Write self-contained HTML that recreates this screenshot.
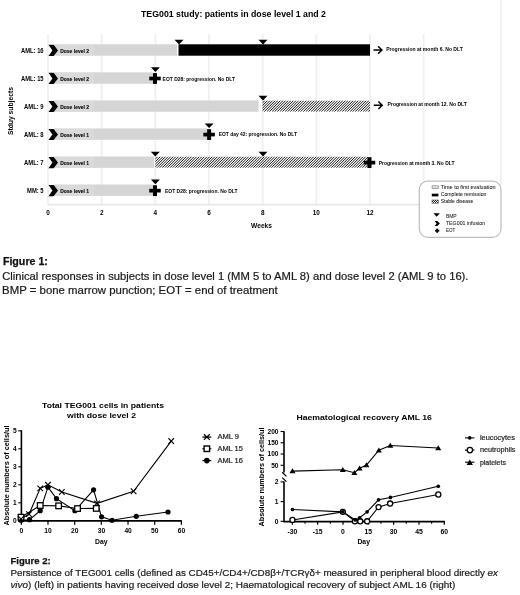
<!DOCTYPE html>
<html><head><meta charset="utf-8"><style>
html,body{margin:0;padding:0;background:#fff;}
svg{display:block;font-family:"Liberation Sans", sans-serif;filter:grayscale(1);}
</style></head><body>
<svg width="520" height="595" viewBox="0 0 520 595">
<line x1="48.00" y1="34" x2="48.00" y2="204" stroke="#efefef" stroke-width="1.7"/>
<line x1="101.67" y1="34" x2="101.67" y2="204" stroke="#efefef" stroke-width="1.7"/>
<line x1="155.33" y1="34" x2="155.33" y2="204" stroke="#efefef" stroke-width="1.7"/>
<line x1="209.00" y1="34" x2="209.00" y2="204" stroke="#efefef" stroke-width="1.7"/>
<line x1="262.66" y1="34" x2="262.66" y2="204" stroke="#efefef" stroke-width="1.7"/>
<line x1="316.33" y1="34" x2="316.33" y2="204" stroke="#efefef" stroke-width="1.7"/>
<line x1="370.00" y1="34" x2="370.00" y2="204" stroke="#efefef" stroke-width="1.7"/>
<line x1="423.66" y1="34" x2="423.66" y2="204" stroke="#efefef" stroke-width="1.7"/>
<line x1="500.9" y1="0" x2="500.9" y2="185" stroke="#efefef" stroke-width="1.8"/>
<line x1="47.5" y1="204.6" x2="419" y2="204.6" stroke="#e8e8e8" stroke-width="1.6"/>
<text x="141" y="17.4" font-size="8.6" font-weight="bold" text-anchor="start" fill="#000" textLength="185" lengthAdjust="spacingAndGlyphs">TEG001 study: patients in dose level 1 and 2</text>
<text transform="translate(12.8,111) rotate(-90)" font-size="7.4" font-weight="bold" text-anchor="middle" textLength="48" lengthAdjust="spacingAndGlyphs">Stduy subjects</text>
<defs><pattern id="hatch" patternUnits="userSpaceOnUse" width="1.65" height="1.65" patternTransform="rotate(45)"><rect width="1.65" height="1.65" fill="#fff"/><rect width="0.85" height="1.65" fill="#111"/></pattern></defs>
<text x="43.6" y="52.5" font-size="6.8" font-weight="bold" text-anchor="end" fill="#000" textLength="22.5" lengthAdjust="spacingAndGlyphs">AML: 16</text>
<text x="43.6" y="80.54" font-size="6.8" font-weight="bold" text-anchor="end" fill="#000" textLength="22.5" lengthAdjust="spacingAndGlyphs">AML: 15</text>
<text x="43.6" y="108.58" font-size="6.8" font-weight="bold" text-anchor="end" fill="#000" textLength="19.5" lengthAdjust="spacingAndGlyphs">AML: 9</text>
<text x="43.6" y="136.62" font-size="6.8" font-weight="bold" text-anchor="end" fill="#000" textLength="19.5" lengthAdjust="spacingAndGlyphs">AML: 8</text>
<text x="43.6" y="164.66" font-size="6.8" font-weight="bold" text-anchor="end" fill="#000" textLength="19.5" lengthAdjust="spacingAndGlyphs">AML: 7</text>
<text x="43.6" y="192.7" font-size="6.8" font-weight="bold" text-anchor="end" fill="#000" textLength="16.5" lengthAdjust="spacingAndGlyphs">MM: 5</text>
<rect x="53.6" y="44.30" width="123.4" height="11.4" fill="#d5d5d5"/>
<rect x="178.5" y="44.30" width="191.5" height="11.4" fill="#000"/>
<path d="M174.50,39.70 L183.50,39.70 L179.00,44.40 Z" fill="#000"/>
<path d="M258.50,39.70 L267.50,39.70 L263.00,44.40 Z" fill="#000"/>
<path d="M373.50,50.00 H381.70 M378.10,46.30 L381.90,50.00 L378.10,53.70" stroke="#000" stroke-width="1.5" fill="none"/>
<rect x="53.6" y="72.34" width="99.4" height="11.4" fill="#d5d5d5"/>
<path d="M150.90,67.34 L159.90,67.34 L155.40,72.04 Z" fill="#000"/>
<rect x="153.00" y="73.09" width="4" height="10.8" fill="#000"/><rect x="149.25" y="76.64" width="11.5" height="3.7" fill="#000"/>
<rect x="53.6" y="100.38" width="204.9" height="11.4" fill="#d5d5d5"/>
<clipPath id="hc1"><rect x="262.50" y="100.38" width="107.50" height="11.40"/></clipPath><path clip-path="url(#hc1)" d="M251.10,111.78 L262.50,100.38 M253.70,111.78 L265.10,100.38 M256.30,111.78 L267.70,100.38 M258.90,111.78 L270.30,100.38 M261.50,111.78 L272.90,100.38 M264.10,111.78 L275.50,100.38 M266.70,111.78 L278.10,100.38 M269.30,111.78 L280.70,100.38 M271.90,111.78 L283.30,100.38 M274.50,111.78 L285.90,100.38 M277.10,111.78 L288.50,100.38 M279.70,111.78 L291.10,100.38 M282.30,111.78 L293.70,100.38 M284.90,111.78 L296.30,100.38 M287.50,111.78 L298.90,100.38 M290.10,111.78 L301.50,100.38 M292.70,111.78 L304.10,100.38 M295.30,111.78 L306.70,100.38 M297.90,111.78 L309.30,100.38 M300.50,111.78 L311.90,100.38 M303.10,111.78 L314.50,100.38 M305.70,111.78 L317.10,100.38 M308.30,111.78 L319.70,100.38 M310.90,111.78 L322.30,100.38 M313.50,111.78 L324.90,100.38 M316.10,111.78 L327.50,100.38 M318.70,111.78 L330.10,100.38 M321.30,111.78 L332.70,100.38 M323.90,111.78 L335.30,100.38 M326.50,111.78 L337.90,100.38 M329.10,111.78 L340.50,100.38 M331.70,111.78 L343.10,100.38 M334.30,111.78 L345.70,100.38 M336.90,111.78 L348.30,100.38 M339.50,111.78 L350.90,100.38 M342.10,111.78 L353.50,100.38 M344.70,111.78 L356.10,100.38 M347.30,111.78 L358.70,100.38 M349.90,111.78 L361.30,100.38 M352.50,111.78 L363.90,100.38 M355.10,111.78 L366.50,100.38 M357.70,111.78 L369.10,100.38 M360.30,111.78 L371.70,100.38 M362.90,111.78 L374.30,100.38 M365.50,111.78 L376.90,100.38 M368.10,111.78 L379.50,100.38 M370.70,111.78 L382.10,100.38" stroke="#151515" stroke-width="1.0" fill="none"/>
<path d="M258.50,95.78 L267.50,95.78 L263.00,100.48 Z" fill="#000"/>
<path d="M373.80,105.25 H382.00 M378.40,101.55 L382.20,105.25 L378.40,108.95" stroke="#000" stroke-width="1.5" fill="none"/>
<rect x="53.6" y="128.42" width="153.4" height="11.4" fill="#d5d5d5"/>
<path d="M204.60,123.42 L213.60,123.42 L209.10,128.12 Z" fill="#000"/>
<rect x="207.10" y="129.17" width="4" height="10.8" fill="#000"/><rect x="203.35" y="132.72" width="11.5" height="3.7" fill="#000"/>
<rect x="53.6" y="156.46" width="100.4" height="11.4" fill="#d5d5d5"/>
<clipPath id="hc2"><rect x="155.30" y="156.46" width="212.70" height="11.40"/></clipPath><path clip-path="url(#hc2)" d="M143.90,167.86 L155.30,156.46 M146.50,167.86 L157.90,156.46 M149.10,167.86 L160.50,156.46 M151.70,167.86 L163.10,156.46 M154.30,167.86 L165.70,156.46 M156.90,167.86 L168.30,156.46 M159.50,167.86 L170.90,156.46 M162.10,167.86 L173.50,156.46 M164.70,167.86 L176.10,156.46 M167.30,167.86 L178.70,156.46 M169.90,167.86 L181.30,156.46 M172.50,167.86 L183.90,156.46 M175.10,167.86 L186.50,156.46 M177.70,167.86 L189.10,156.46 M180.30,167.86 L191.70,156.46 M182.90,167.86 L194.30,156.46 M185.50,167.86 L196.90,156.46 M188.10,167.86 L199.50,156.46 M190.70,167.86 L202.10,156.46 M193.30,167.86 L204.70,156.46 M195.90,167.86 L207.30,156.46 M198.50,167.86 L209.90,156.46 M201.10,167.86 L212.50,156.46 M203.70,167.86 L215.10,156.46 M206.30,167.86 L217.70,156.46 M208.90,167.86 L220.30,156.46 M211.50,167.86 L222.90,156.46 M214.10,167.86 L225.50,156.46 M216.70,167.86 L228.10,156.46 M219.30,167.86 L230.70,156.46 M221.90,167.86 L233.30,156.46 M224.50,167.86 L235.90,156.46 M227.10,167.86 L238.50,156.46 M229.70,167.86 L241.10,156.46 M232.30,167.86 L243.70,156.46 M234.90,167.86 L246.30,156.46 M237.50,167.86 L248.90,156.46 M240.10,167.86 L251.50,156.46 M242.70,167.86 L254.10,156.46 M245.30,167.86 L256.70,156.46 M247.90,167.86 L259.30,156.46 M250.50,167.86 L261.90,156.46 M253.10,167.86 L264.50,156.46 M255.70,167.86 L267.10,156.46 M258.30,167.86 L269.70,156.46 M260.90,167.86 L272.30,156.46 M263.50,167.86 L274.90,156.46 M266.10,167.86 L277.50,156.46 M268.70,167.86 L280.10,156.46 M271.30,167.86 L282.70,156.46 M273.90,167.86 L285.30,156.46 M276.50,167.86 L287.90,156.46 M279.10,167.86 L290.50,156.46 M281.70,167.86 L293.10,156.46 M284.30,167.86 L295.70,156.46 M286.90,167.86 L298.30,156.46 M289.50,167.86 L300.90,156.46 M292.10,167.86 L303.50,156.46 M294.70,167.86 L306.10,156.46 M297.30,167.86 L308.70,156.46 M299.90,167.86 L311.30,156.46 M302.50,167.86 L313.90,156.46 M305.10,167.86 L316.50,156.46 M307.70,167.86 L319.10,156.46 M310.30,167.86 L321.70,156.46 M312.90,167.86 L324.30,156.46 M315.50,167.86 L326.90,156.46 M318.10,167.86 L329.50,156.46 M320.70,167.86 L332.10,156.46 M323.30,167.86 L334.70,156.46 M325.90,167.86 L337.30,156.46 M328.50,167.86 L339.90,156.46 M331.10,167.86 L342.50,156.46 M333.70,167.86 L345.10,156.46 M336.30,167.86 L347.70,156.46 M338.90,167.86 L350.30,156.46 M341.50,167.86 L352.90,156.46 M344.10,167.86 L355.50,156.46 M346.70,167.86 L358.10,156.46 M349.30,167.86 L360.70,156.46 M351.90,167.86 L363.30,156.46 M354.50,167.86 L365.90,156.46 M357.10,167.86 L368.50,156.46 M359.70,167.86 L371.10,156.46 M362.30,167.86 L373.70,156.46 M364.90,167.86 L376.30,156.46 M367.50,167.86 L378.90,156.46" stroke="#151515" stroke-width="1.0" fill="none"/>
<path d="M150.80,151.86 L159.80,151.86 L155.30,156.56 Z" fill="#000"/>
<path d="M258.50,151.86 L267.50,151.86 L263.00,156.56 Z" fill="#000"/>
<rect x="367.50" y="157.21" width="4" height="10.8" fill="#000"/><rect x="363.75" y="160.76" width="11.5" height="3.7" fill="#000"/>
<rect x="53.6" y="184.50" width="99.4" height="11.4" fill="#d5d5d5"/>
<path d="M150.90,179.50 L159.90,179.50 L155.40,184.20 Z" fill="#000"/>
<rect x="153.00" y="185.25" width="4" height="10.8" fill="#000"/><rect x="149.25" y="188.80" width="11.5" height="3.7" fill="#000"/>
<rect x="57.5" y="44.90" width="36.5" height="10.20" fill="#dadada"/>
<path d="M48.5,44.80 L53.6,44.80 L58,50.40 L53.6,56.00 L48.5,56.00 L52.4,50.40 Z" fill="#000"/>
<text x="60.2" y="52.6" font-size="5.9" font-weight="bold" text-anchor="start" fill="#000" textLength="28.8" lengthAdjust="spacingAndGlyphs" stroke="#000" stroke-width="0.1">Dose level 2</text>
<rect x="57.5" y="72.94" width="36.5" height="10.20" fill="#dadada"/>
<path d="M48.5,72.84 L53.6,72.84 L58,78.44 L53.6,84.04 L48.5,84.04 L52.4,78.44 Z" fill="#000"/>
<text x="60.2" y="80.64" font-size="5.9" font-weight="bold" text-anchor="start" fill="#000" textLength="28.8" lengthAdjust="spacingAndGlyphs" stroke="#000" stroke-width="0.1">Dose level 2</text>
<rect x="57.5" y="100.98" width="36.5" height="10.20" fill="#dadada"/>
<path d="M48.5,100.88 L53.6,100.88 L58,106.48 L53.6,112.08 L48.5,112.08 L52.4,106.48 Z" fill="#000"/>
<text x="60.2" y="108.67999999999999" font-size="5.9" font-weight="bold" text-anchor="start" fill="#000" textLength="28.8" lengthAdjust="spacingAndGlyphs" stroke="#000" stroke-width="0.1">Dose level 2</text>
<rect x="57.5" y="129.02" width="36.5" height="10.20" fill="#dadada"/>
<path d="M48.5,128.92 L53.6,128.92 L58,134.52 L53.6,140.12 L48.5,140.12 L52.4,134.52 Z" fill="#000"/>
<text x="60.2" y="136.72" font-size="5.9" font-weight="bold" text-anchor="start" fill="#000" textLength="28.8" lengthAdjust="spacingAndGlyphs" stroke="#000" stroke-width="0.1">Dose level 1</text>
<rect x="57.5" y="157.06" width="36.5" height="10.20" fill="#dadada"/>
<path d="M48.5,156.96 L53.6,156.96 L58,162.56 L53.6,168.16 L48.5,168.16 L52.4,162.56 Z" fill="#000"/>
<text x="60.2" y="164.76" font-size="5.9" font-weight="bold" text-anchor="start" fill="#000" textLength="28.8" lengthAdjust="spacingAndGlyphs" stroke="#000" stroke-width="0.1">Dose level 1</text>
<rect x="57.5" y="185.10" width="36.5" height="10.20" fill="#dadada"/>
<path d="M48.5,185.00 L53.6,185.00 L58,190.60 L53.6,196.20 L48.5,196.20 L52.4,190.60 Z" fill="#000"/>
<text x="60.2" y="192.79999999999998" font-size="5.9" font-weight="bold" text-anchor="start" fill="#000" textLength="28.8" lengthAdjust="spacingAndGlyphs" stroke="#000" stroke-width="0.1">Dose level 1</text>
<text x="386.2" y="51.2" font-size="5.8" font-weight="bold" text-anchor="start" fill="#000" textLength="76.6" lengthAdjust="spacingAndGlyphs">Progression at month 6. No DLT</text>
<text x="162.6" y="81.0" font-size="5.8" font-weight="bold" text-anchor="start" fill="#000" textLength="72.4" lengthAdjust="spacingAndGlyphs">EOT D28: progression. No DLT</text>
<text x="387.6" y="105.8" font-size="5.8" font-weight="bold" text-anchor="start" fill="#000" textLength="79.3" lengthAdjust="spacingAndGlyphs">Progression at month 12. No DLT</text>
<text x="218.75" y="135.5" font-size="5.8" font-weight="bold" text-anchor="start" fill="#000" textLength="78.2" lengthAdjust="spacingAndGlyphs">EOT day 42: progression. No DLT</text>
<text x="378.75" y="165.3" font-size="5.8" font-weight="bold" text-anchor="start" fill="#000" textLength="75.7" lengthAdjust="spacingAndGlyphs">Progression at month 3. No DLT</text>
<text x="165" y="193.0" font-size="5.8" font-weight="bold" text-anchor="start" fill="#000" textLength="72.5" lengthAdjust="spacingAndGlyphs">EOT D28: progression. No DLT</text>
<text x="48.00" y="215" font-size="6.4" font-weight="bold" text-anchor="middle" fill="#000">0</text>
<text x="101.67" y="215" font-size="6.4" font-weight="bold" text-anchor="middle" fill="#000">2</text>
<text x="155.33" y="215" font-size="6.4" font-weight="bold" text-anchor="middle" fill="#000">4</text>
<text x="209.00" y="215" font-size="6.4" font-weight="bold" text-anchor="middle" fill="#000">6</text>
<text x="262.66" y="215" font-size="6.4" font-weight="bold" text-anchor="middle" fill="#000">8</text>
<text x="316.33" y="215" font-size="6.4" font-weight="bold" text-anchor="middle" fill="#000">10</text>
<text x="370.00" y="215" font-size="6.4" font-weight="bold" text-anchor="middle" fill="#000">12</text>
<text x="261.5" y="227.8" font-size="6.6" font-weight="bold" text-anchor="middle" fill="#000">Weeks</text>
<rect x="419.3" y="181.2" width="81.7" height="56.2" rx="8.5" ry="8.5" fill="#fff" stroke="#bdbdbd" stroke-width="1.2"/>
<rect x="432.1" y="185.8" width="6.2" height="2.8" fill="#ddd" stroke="#888" stroke-width="0.7"/>
<rect x="431.8" y="193.7" width="6.6" height="2.7" fill="#000"/>
<rect x="432" y="200" width="6.4" height="3.2" fill="#fff" stroke="#555" stroke-width="0.6"/>
<clipPath id="hc3"><rect x="432.00" y="200.00" width="6.40" height="3.20"/></clipPath><path clip-path="url(#hc3)" d="M428.80,203.20 L432.00,200.00 M430.80,203.20 L434.00,200.00 M432.80,203.20 L436.00,200.00 M434.80,203.20 L438.00,200.00 M436.80,203.20 L440.00,200.00 M438.80,203.20 L442.00,200.00" stroke="#111" stroke-width="0.9" fill="none"/>
<text x="440.7" y="189.1" font-size="6.2" font-weight="normal" text-anchor="start" fill="#1a1a1a" textLength="54.8" lengthAdjust="spacingAndGlyphs" stroke="#1a1a1a" stroke-width="0.06">Time to first evaluation</text>
<text x="440.7" y="196.4" font-size="6.2" font-weight="normal" text-anchor="start" fill="#1a1a1a" textLength="45.7" lengthAdjust="spacingAndGlyphs" stroke="#1a1a1a" stroke-width="0.06">Complete remission</text>
<text x="440.7" y="203.3" font-size="6.2" font-weight="normal" text-anchor="start" fill="#1a1a1a" textLength="32.7" lengthAdjust="spacingAndGlyphs" stroke="#1a1a1a" stroke-width="0.06">Stable disease</text>
<path d="M433.5,213.2 L439.8,213.2 L436.65,216.8 Z" fill="#000"/>
<path d="M434.6,221 L437.3,221 L439.9,223.45 L437.3,225.9 L434.6,225.9 L436.7,223.45 Z" fill="#000"/>
<rect x="436.3" y="228.6" width="1.8" height="4.2" fill="#000"/><rect x="435.1" y="229.8" width="4.2" height="1.8" fill="#000"/>
<text x="445.9" y="218.2" font-size="6.2" font-weight="normal" text-anchor="start" fill="#1a1a1a" textLength="10.7" lengthAdjust="spacingAndGlyphs" stroke="#1a1a1a" stroke-width="0.06">BMP</text>
<text x="445.9" y="225.0" font-size="6.2" font-weight="normal" text-anchor="start" fill="#1a1a1a" textLength="39.2" lengthAdjust="spacingAndGlyphs" stroke="#1a1a1a" stroke-width="0.06">TEG001 infusion</text>
<text x="445.9" y="232.2" font-size="6.2" font-weight="normal" text-anchor="start" fill="#1a1a1a" textLength="9.3" lengthAdjust="spacingAndGlyphs" stroke="#1a1a1a" stroke-width="0.06">EOT</text>
<text x="2.9" y="265.4" font-size="10" font-weight="bold" text-anchor="start" fill="#111" textLength="45" lengthAdjust="spacingAndGlyphs" stroke="#111" stroke-width="0.25">Figure 1:</text>
<text x="2.2" y="280.2" font-size="10.3" font-weight="normal" text-anchor="start" fill="#1a1a1a" textLength="466.3" lengthAdjust="spacingAndGlyphs" stroke="#1a1a1a" stroke-width="0.2">Clinical responses in subjects in dose level 1 (MM 5 to AML 8) and dose level 2 (AML 9 to 16).</text>
<text x="2.1" y="293.6" font-size="10.3" font-weight="normal" text-anchor="start" fill="#1a1a1a" textLength="275.7" lengthAdjust="spacingAndGlyphs" stroke="#1a1a1a" stroke-width="0.2">BMP = bone marrow punction; EOT = end of treatment</text>
<text x="10.4" y="564.4" font-size="9.4" font-weight="bold" text-anchor="start" fill="#111" textLength="40.4" lengthAdjust="spacingAndGlyphs" stroke="#111" stroke-width="0.25">Figure 2:</text>
<text x="10.4" y="576.3" font-size="9.7" font-weight="normal" text-anchor="start" fill="#1a1a1a" textLength="487.6" lengthAdjust="spacingAndGlyphs" stroke="#1a1a1a" stroke-width="0.2">Persistence of TEG001 cells (defined as CD45+/CD4+/CD8&#946;+/TCR&#947;&#948;+ measured in peripheral blood directly <tspan font-style="italic">ex</tspan></text>
<text x="10.4" y="588.1" font-size="9.7" font-weight="normal" text-anchor="start" fill="#1a1a1a" textLength="445" lengthAdjust="spacingAndGlyphs" stroke="#1a1a1a" stroke-width="0.2"><tspan font-style="italic">vivo</tspan>) (left) in patients having received dose level 2; Haematological recovery of subject AML 16 (right)</text>
<text x="103" y="408" font-size="7.8" font-weight="bold" text-anchor="middle" fill="#000" textLength="122" lengthAdjust="spacingAndGlyphs">Total TEG001 cells in patients</text>
<text x="101.5" y="418.2" font-size="7.8" font-weight="bold" text-anchor="middle" fill="#000" textLength="69" lengthAdjust="spacingAndGlyphs">with dose level 2</text>
<path d="M21.4,430.2 V521.4 M20.6,520.9 H181.8" stroke="#000" stroke-width="1.6" fill="none"/>
<line x1="18.3" y1="520.80" x2="21" y2="520.80" stroke="#000" stroke-width="1.1"/>
<text x="16.6" y="523.1999999999999" font-size="6.6" font-weight="bold" text-anchor="end" fill="#000">0</text>
<line x1="18.3" y1="502.80" x2="21" y2="502.80" stroke="#000" stroke-width="1.1"/>
<text x="16.6" y="505.19999999999993" font-size="6.6" font-weight="bold" text-anchor="end" fill="#000">1</text>
<line x1="18.3" y1="484.80" x2="21" y2="484.80" stroke="#000" stroke-width="1.1"/>
<text x="16.6" y="487.19999999999993" font-size="6.6" font-weight="bold" text-anchor="end" fill="#000">2</text>
<line x1="18.3" y1="466.80" x2="21" y2="466.80" stroke="#000" stroke-width="1.1"/>
<text x="16.6" y="469.19999999999993" font-size="6.6" font-weight="bold" text-anchor="end" fill="#000">3</text>
<line x1="18.3" y1="448.80" x2="21" y2="448.80" stroke="#000" stroke-width="1.1"/>
<text x="16.6" y="451.19999999999993" font-size="6.6" font-weight="bold" text-anchor="end" fill="#000">4</text>
<line x1="18.3" y1="430.80" x2="21" y2="430.80" stroke="#000" stroke-width="1.1"/>
<text x="16.6" y="433.19999999999993" font-size="6.6" font-weight="bold" text-anchor="end" fill="#000">5</text>
<line x1="21.30" y1="520.8" x2="21.30" y2="524.7" stroke="#000" stroke-width="1.2"/>
<text x="21.40" y="532.7" font-size="6.7" font-weight="bold" text-anchor="middle" fill="#000">0</text>
<line x1="47.98" y1="520.8" x2="47.98" y2="524.7" stroke="#000" stroke-width="1.2"/>
<text x="48.08" y="532.7" font-size="6.7" font-weight="bold" text-anchor="middle" fill="#000">10</text>
<line x1="74.66" y1="520.8" x2="74.66" y2="524.7" stroke="#000" stroke-width="1.2"/>
<text x="74.76" y="532.7" font-size="6.7" font-weight="bold" text-anchor="middle" fill="#000">20</text>
<line x1="101.34" y1="520.8" x2="101.34" y2="524.7" stroke="#000" stroke-width="1.2"/>
<text x="101.44" y="532.7" font-size="6.7" font-weight="bold" text-anchor="middle" fill="#000">30</text>
<line x1="128.02" y1="520.8" x2="128.02" y2="524.7" stroke="#000" stroke-width="1.2"/>
<text x="128.12" y="532.7" font-size="6.7" font-weight="bold" text-anchor="middle" fill="#000">40</text>
<line x1="154.70" y1="520.8" x2="154.70" y2="524.7" stroke="#000" stroke-width="1.2"/>
<text x="154.80" y="532.7" font-size="6.7" font-weight="bold" text-anchor="middle" fill="#000">50</text>
<line x1="181.38" y1="520.8" x2="181.38" y2="524.7" stroke="#000" stroke-width="1.2"/>
<text x="181.48" y="532.7" font-size="6.7" font-weight="bold" text-anchor="middle" fill="#000">60</text>
<text x="101.3" y="543.7" font-size="6.8" font-weight="bold" text-anchor="middle" fill="#000">Day</text>
<text transform="translate(8.9,475.5) rotate(-90)" font-size="6.8" font-weight="bold" text-anchor="middle" textLength="100" lengthAdjust="spacingAndGlyphs">Absolute numbers of cells/ul</text>
<polyline points="21.00,519.00 29.00,514.14 40.21,488.40 47.95,484.80 61.82,492.00 97.04,503.34 133.59,491.28 171.21,441.06" fill="none" stroke="#000" stroke-width="1.1"/>
<polyline points="21.00,517.20 40.21,505.50 58.62,505.86 77.56,508.56 96.24,508.38" fill="none" stroke="#000" stroke-width="1.1"/>
<polyline points="21.00,520.26 29.54,519.72 40.21,510.72 47.95,487.14 56.48,498.66 74.89,510.72 93.57,489.84 101.57,516.84 111.98,520.26 136.26,516.30 168.01,511.98" fill="none" stroke="#000" stroke-width="1.1"/>
<circle cx="21.00" cy="520.26" r="2.6" fill="#000"/>
<circle cx="29.54" cy="519.72" r="2.6" fill="#000"/>
<circle cx="40.21" cy="510.72" r="2.6" fill="#000"/>
<circle cx="47.95" cy="487.14" r="2.6" fill="#000"/>
<circle cx="56.48" cy="498.66" r="2.6" fill="#000"/>
<circle cx="74.89" cy="510.72" r="2.6" fill="#000"/>
<circle cx="93.57" cy="489.84" r="2.6" fill="#000"/>
<circle cx="101.57" cy="516.84" r="2.6" fill="#000"/>
<circle cx="111.98" cy="520.26" r="2.6" fill="#000"/>
<circle cx="136.26" cy="516.30" r="2.6" fill="#000"/>
<circle cx="168.01" cy="511.98" r="2.6" fill="#000"/>
<rect x="18.20" y="514.40" width="5.6" height="5.6" fill="#fff" stroke="#000" stroke-width="1.3"/>
<rect x="37.41" y="502.70" width="5.6" height="5.6" fill="#fff" stroke="#000" stroke-width="1.3"/>
<rect x="55.82" y="503.06" width="5.6" height="5.6" fill="#fff" stroke="#000" stroke-width="1.3"/>
<rect x="74.76" y="505.76" width="5.6" height="5.6" fill="#fff" stroke="#000" stroke-width="1.3"/>
<rect x="93.44" y="505.58" width="5.6" height="5.6" fill="#fff" stroke="#000" stroke-width="1.3"/>
<path d="M18.20,516.20 L23.80,521.80 M18.20,521.80 L23.80,516.20" stroke="#000" stroke-width="1.1"/>
<path d="M26.20,511.34 L31.80,516.94 M26.20,516.94 L31.80,511.34" stroke="#000" stroke-width="1.1"/>
<path d="M37.41,485.60 L43.01,491.20 M37.41,491.20 L43.01,485.60" stroke="#000" stroke-width="1.1"/>
<path d="M45.15,482.00 L50.75,487.60 M45.15,487.60 L50.75,482.00" stroke="#000" stroke-width="1.1"/>
<path d="M59.02,489.20 L64.62,494.80 M59.02,494.80 L64.62,489.20" stroke="#000" stroke-width="1.1"/>
<path d="M94.24,500.54 L99.84,506.14 M94.24,506.14 L99.84,500.54" stroke="#000" stroke-width="1.1"/>
<path d="M130.79,488.48 L136.39,494.08 M130.79,494.08 L136.39,488.48" stroke="#000" stroke-width="1.1"/>
<path d="M168.41,438.26 L174.01,443.86 M168.41,443.86 L174.01,438.26" stroke="#000" stroke-width="1.1"/>
<path d="M202.4,437.1 H211.3 M203.9,434.3 L209.8,439.9 M203.9,439.9 L209.8,434.3" stroke="#000" stroke-width="1.2"/>
<path d="M202.4,448.7 H211.3" stroke="#000" stroke-width="1.1"/><rect x="204.1" y="446" width="5.5" height="5.5" fill="#fff" stroke="#000" stroke-width="1.4"/>
<path d="M202.4,460.6 H211.3" stroke="#000" stroke-width="1.1"/><circle cx="206.85" cy="460.6" r="2.8" fill="#000"/>
<text x="217.4" y="439.3" font-size="7.4" font-weight="normal" text-anchor="start" fill="#222" textLength="21.6" lengthAdjust="spacingAndGlyphs" stroke="#222" stroke-width="0.2">AML 9</text>
<text x="217.4" y="450.9" font-size="7.4" font-weight="normal" text-anchor="start" fill="#222" textLength="25.5" lengthAdjust="spacingAndGlyphs" stroke="#222" stroke-width="0.2">AML 15</text>
<text x="217.4" y="462.8" font-size="7.4" font-weight="normal" text-anchor="start" fill="#222" textLength="25.5" lengthAdjust="spacingAndGlyphs" stroke="#222" stroke-width="0.2">AML 16</text>
<text x="296.4" y="420" font-size="7.9" font-weight="bold" text-anchor="start" fill="#000" textLength="135.5" lengthAdjust="spacingAndGlyphs">Haematological recovery AML 16</text>
<path d="M284,431.2 V472.6 M284,481.4 V522.4 M283.2,521.6 H444.9" stroke="#000" stroke-width="1.6" fill="none"/>
<path d="M282.2,472.3 L286.4,476.4 M282.2,477.6 L286.4,481.6" stroke="#000" stroke-width="1.3"/>
<line x1="280.6" y1="431.50" x2="284" y2="431.50" stroke="#000" stroke-width="1.1"/>
<text x="278.5" y="433.8" font-size="6.6" font-weight="bold" text-anchor="end" fill="#000">200</text>
<line x1="280.6" y1="442.76" x2="284" y2="442.76" stroke="#000" stroke-width="1.1"/>
<text x="278.5" y="445.065" font-size="6.6" font-weight="bold" text-anchor="end" fill="#000">150</text>
<line x1="280.6" y1="454.03" x2="284" y2="454.03" stroke="#000" stroke-width="1.1"/>
<text x="278.5" y="456.33" font-size="6.6" font-weight="bold" text-anchor="end" fill="#000">100</text>
<line x1="280.6" y1="465.30" x2="284" y2="465.30" stroke="#000" stroke-width="1.1"/>
<text x="278.5" y="467.595" font-size="6.6" font-weight="bold" text-anchor="end" fill="#000">50</text>
<line x1="280.6" y1="521.30" x2="284" y2="521.30" stroke="#000" stroke-width="1.1"/>
<text x="278.5" y="523.5999999999999" font-size="6.6" font-weight="bold" text-anchor="end" fill="#000">0</text>
<line x1="280.6" y1="501.60" x2="284" y2="501.60" stroke="#000" stroke-width="1.1"/>
<text x="278.5" y="503.9" font-size="6.6" font-weight="bold" text-anchor="end" fill="#000">1</text>
<line x1="280.6" y1="481.90" x2="284" y2="481.90" stroke="#000" stroke-width="1.1"/>
<text x="278.5" y="484.2" font-size="6.6" font-weight="bold" text-anchor="end" fill="#000">2</text>
<line x1="292.36" y1="521.6" x2="292.36" y2="524.8" stroke="#000" stroke-width="1.2"/>
<text x="292.36" y="533.9" font-size="6.8" font-weight="bold" text-anchor="middle" fill="#000">-30</text>
<line x1="317.68" y1="521.6" x2="317.68" y2="524.8" stroke="#000" stroke-width="1.2"/>
<text x="317.68" y="533.9" font-size="6.8" font-weight="bold" text-anchor="middle" fill="#000">-15</text>
<line x1="343.00" y1="521.6" x2="343.00" y2="524.8" stroke="#000" stroke-width="1.2"/>
<text x="343.00" y="533.9" font-size="6.8" font-weight="bold" text-anchor="middle" fill="#000">0</text>
<line x1="368.32" y1="521.6" x2="368.32" y2="524.8" stroke="#000" stroke-width="1.2"/>
<text x="368.32" y="533.9" font-size="6.8" font-weight="bold" text-anchor="middle" fill="#000">15</text>
<line x1="393.64" y1="521.6" x2="393.64" y2="524.8" stroke="#000" stroke-width="1.2"/>
<text x="393.64" y="533.9" font-size="6.8" font-weight="bold" text-anchor="middle" fill="#000">30</text>
<line x1="418.96" y1="521.6" x2="418.96" y2="524.8" stroke="#000" stroke-width="1.2"/>
<text x="418.96" y="533.9" font-size="6.8" font-weight="bold" text-anchor="middle" fill="#000">45</text>
<line x1="444.28" y1="521.6" x2="444.28" y2="524.8" stroke="#000" stroke-width="1.2"/>
<text x="444.28" y="533.9" font-size="6.8" font-weight="bold" text-anchor="middle" fill="#000">60</text>
<line x1="305.02" y1="521.6" x2="305.02" y2="523.8" stroke="#000" stroke-width="1.1"/>
<line x1="330.34" y1="521.6" x2="330.34" y2="523.8" stroke="#000" stroke-width="1.1"/>
<line x1="355.66" y1="521.6" x2="355.66" y2="523.8" stroke="#000" stroke-width="1.1"/>
<line x1="380.98" y1="521.6" x2="380.98" y2="523.8" stroke="#000" stroke-width="1.1"/>
<line x1="406.30" y1="521.6" x2="406.30" y2="523.8" stroke="#000" stroke-width="1.1"/>
<line x1="431.62" y1="521.6" x2="431.62" y2="523.8" stroke="#000" stroke-width="1.1"/>
<text x="363.7" y="543.9" font-size="6.8" font-weight="bold" text-anchor="middle" fill="#000">Day</text>
<text transform="translate(263.8,477) rotate(-90)" font-size="6.8" font-weight="bold" text-anchor="middle" textLength="99" lengthAdjust="spacingAndGlyphs">Absolute numbers of cells/ul</text>
<polyline points="292.46,471.15 342.80,469.80 354.38,472.73 359.58,468.22 366.46,465.07 378.88,450.20 390.29,445.47 438.28,447.95" fill="none" stroke="#000" stroke-width="1.1"/>
<polyline points="292.46,519.92 342.80,511.84 354.88,521.30 360.25,521.30 367.13,521.30 378.54,507.12 390.12,503.57 438.28,494.51" fill="none" stroke="#000" stroke-width="1.1"/>
<polyline points="292.46,509.48 342.80,511.84 355.22,519.92 359.58,517.75 367.13,511.84 378.54,499.83 390.46,497.46 438.28,486.23" fill="none" stroke="#000" stroke-width="1.1"/>
<circle cx="292.46" cy="519.92" r="2.55" fill="#fff" stroke="#000" stroke-width="1.3"/>
<circle cx="342.80" cy="511.84" r="2.55" fill="#fff" stroke="#000" stroke-width="1.3"/>
<circle cx="354.88" cy="521.30" r="2.55" fill="#fff" stroke="#000" stroke-width="1.3"/>
<circle cx="360.25" cy="521.30" r="2.55" fill="#fff" stroke="#000" stroke-width="1.3"/>
<circle cx="367.13" cy="521.30" r="2.55" fill="#fff" stroke="#000" stroke-width="1.3"/>
<circle cx="378.54" cy="507.12" r="2.55" fill="#fff" stroke="#000" stroke-width="1.3"/>
<circle cx="390.12" cy="503.57" r="2.55" fill="#fff" stroke="#000" stroke-width="1.3"/>
<circle cx="438.28" cy="494.51" r="2.55" fill="#fff" stroke="#000" stroke-width="1.3"/>
<circle cx="292.46" cy="509.48" r="1.85" fill="#000"/>
<circle cx="342.80" cy="511.84" r="1.85" fill="#000"/>
<circle cx="355.22" cy="519.92" r="1.85" fill="#000"/>
<circle cx="359.58" cy="517.75" r="1.85" fill="#000"/>
<circle cx="367.13" cy="511.84" r="1.85" fill="#000"/>
<circle cx="378.54" cy="499.83" r="1.85" fill="#000"/>
<circle cx="390.46" cy="497.46" r="1.85" fill="#000"/>
<circle cx="438.28" cy="486.23" r="1.85" fill="#000"/>
<path d="M289.46,473.35 L295.46,473.35 L292.46,468.35 Z" fill="#000"/>
<path d="M339.80,472.00 L345.80,472.00 L342.80,467.00 Z" fill="#000"/>
<path d="M351.38,474.93 L357.38,474.93 L354.38,469.93 Z" fill="#000"/>
<path d="M356.58,470.42 L362.58,470.42 L359.58,465.42 Z" fill="#000"/>
<path d="M363.46,467.27 L369.46,467.27 L366.46,462.27 Z" fill="#000"/>
<path d="M375.88,452.40 L381.88,452.40 L378.88,447.40 Z" fill="#000"/>
<path d="M387.29,447.67 L393.29,447.67 L390.29,442.67 Z" fill="#000"/>
<path d="M435.28,450.15 L441.28,450.15 L438.28,445.15 Z" fill="#000"/>
<path d="M465,437.9 H474.4" stroke="#000" stroke-width="1.1"/><circle cx="469.7" cy="437.9" r="1.8" fill="#000"/>
<path d="M465,450.1 H474.4" stroke="#000" stroke-width="1.1"/><circle cx="469.9" cy="450.1" r="2.7" fill="#fff" stroke="#000" stroke-width="1.3"/>
<path d="M465,462.2 H474.4" stroke="#000" stroke-width="1.1"/><path d="M466.6,464.9 L472.9,464.9 L469.75,459.5 Z" fill="#000"/>
<text x="479.9" y="440.0" font-size="7.4" font-weight="normal" text-anchor="start" fill="#222" textLength="35" lengthAdjust="spacingAndGlyphs" stroke="#222" stroke-width="0.2">leucocytes</text>
<text x="479.9" y="452.1" font-size="7.4" font-weight="normal" text-anchor="start" fill="#222" textLength="35.6" lengthAdjust="spacingAndGlyphs" stroke="#222" stroke-width="0.2">neutrophils</text>
<text x="479.9" y="464.6" font-size="7.4" font-weight="normal" text-anchor="start" fill="#222" textLength="26" lengthAdjust="spacingAndGlyphs" stroke="#222" stroke-width="0.2">platelets</text>
</svg>
</body></html>
